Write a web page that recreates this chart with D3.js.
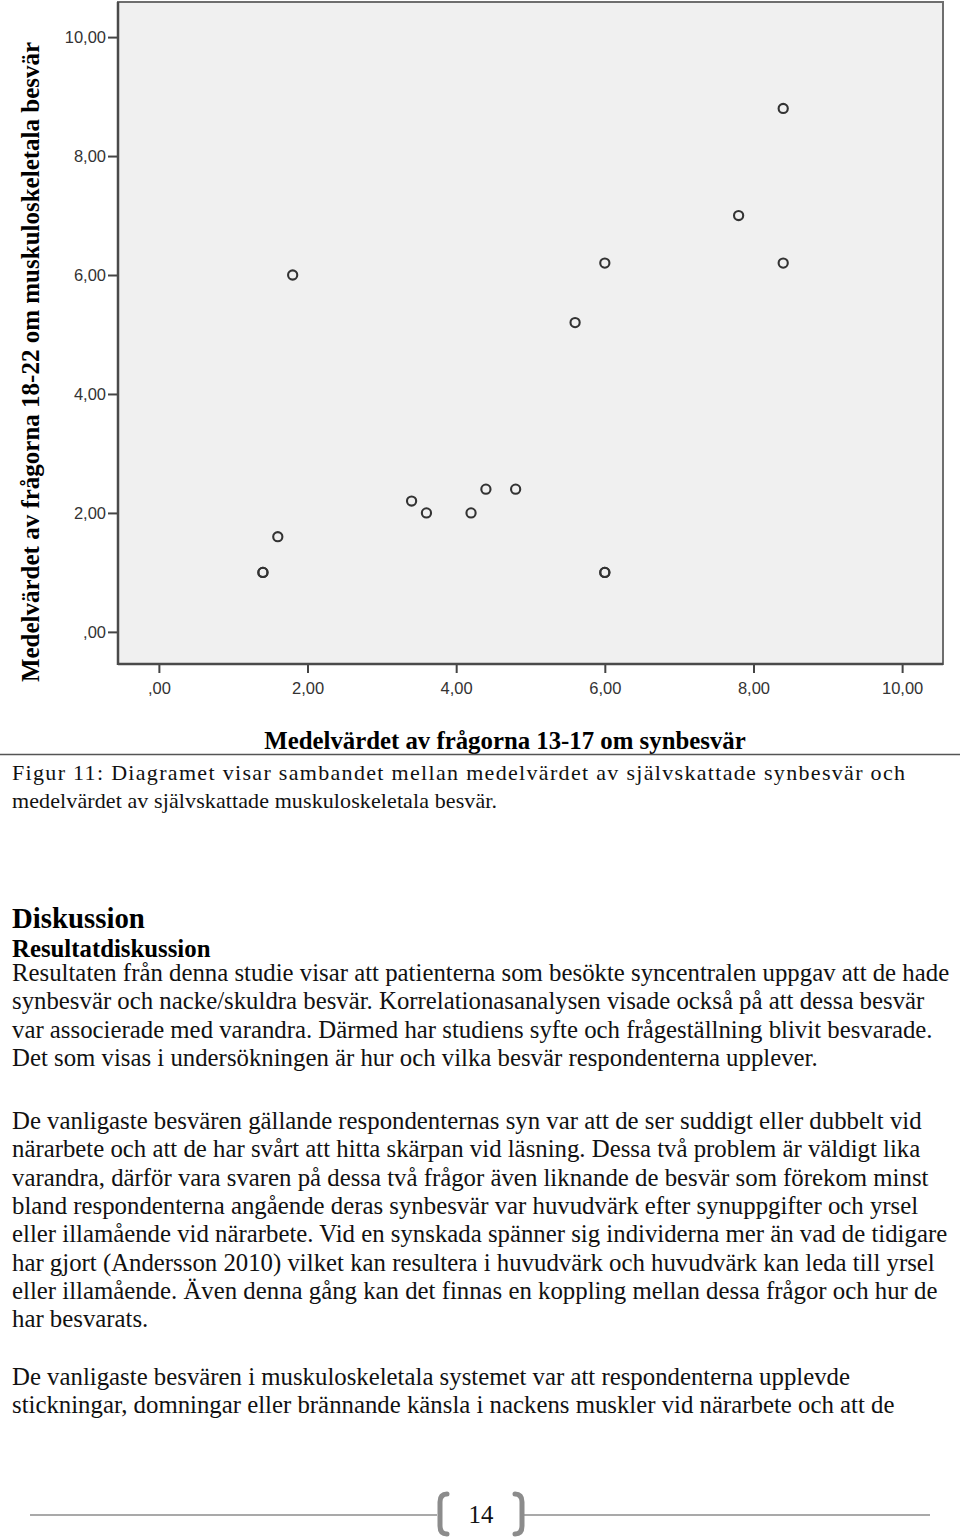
<!DOCTYPE html>
<html><head><meta charset="utf-8">
<script src="https://cdn.jsdelivr.net/npm/d3@7"></script>
<style>body{margin:0;background:#fff}svg{display:block}</style>
</head><body>
<script>
// ---- data ----
const synbesvar = [1.4, 1.4, 1.6, 1.8, 3.4, 3.6, 4.2, 4.4, 4.8, 5.6, 6.0, 6.0, 6.0, 7.8, 8.4, 8.4];
const muskuloskeletala = [1.0, 1.0, 1.6, 6.0, 2.2, 2.0, 2.0, 2.4, 2.4, 5.2, 6.2, 1.0, 1.0, 7.0, 8.8, 6.2];
const tickValues = [0, 2, 4, 6, 8, 10];
const tickLabels = [",00", "2,00", "4,00", "6,00", "8,00", "10,00"];
const xTitle = "Medelvärdet av frågorna 13-17 om synbesvär";
const yTitle = "Medelvärdet av frågorna 18-22 om muskuloskeletala besvär";
const captionLines = [
  "Figur 11: Diagramet visar sambandet mellan medelvärdet av självskattade synbesvär och",
  "medelvärdet av självskattade muskuloskeletala besvär."
];
const heading = "Diskussion";
const subheading = "Resultatdiskussion";
const para1 = [
  "Resultaten från denna studie visar att patienterna som besökte syncentralen uppgav att de hade",
  "synbesvär och nacke/skuldra besvär. Korrelationasanalysen visade också på att dessa besvär",
  "var associerade med varandra. Därmed har studiens syfte och frågeställning blivit besvarade.",
  "Det som visas i undersökningen är hur och vilka besvär respondenterna upplever."
];
const para2 = [
  "De vanligaste besvären gällande respondenternas syn var att de ser suddigt eller dubbelt vid",
  "närarbete och att de har svårt att hitta skärpan vid läsning. Dessa två problem är väldigt lika",
  "varandra, därför vara svaren på dessa två frågor även liknande de besvär som förekom minst",
  "bland respondenterna angående deras synbesvär var huvudvärk efter synuppgifter och yrsel",
  "eller illamående vid närarbete. Vid en synskada spänner sig individerna mer än vad de tidigare",
  "har gjort (Andersson 2010) vilket kan resultera i huvudvärk och huvudvärk kan leda till yrsel",
  "eller illamående. Även denna gång kan det finnas en koppling mellan dessa frågor och hur de",
  "har besvarats."
];
const para3 = [
  "De vanligaste besvären i muskuloskeletala systemet var att respondenterna upplevde",
  "stickningar, domningar eller brännande känsla i nackens muskler vid närarbete och att de"
];
const pageNumber = "14";

// ---- layout ----
const W = 960, H = 1539;
const plot = {left: 118, right: 943, top: 2, bottom: 664};
const serif = "'Liberation Serif','Times New Roman',serif";
const sans = "'Liberation Sans',Arial,sans-serif";
const bodySize = 24.8;

const svg = d3.select("body").append("svg").attr("width", W).attr("height", H);
svg.append("rect").attr("width", W).attr("height", H).attr("fill", "#fff");

const x = d3.scaleLinear().domain([-0.55, 10.55]).range([plot.left, plot.right]);
const y = d3.scaleLinear().domain([-0.54, 10.59]).range([plot.bottom, plot.top]);

svg.append("rect")
  .attr("x", plot.left).attr("y", plot.top)
  .attr("width", plot.right - plot.left).attr("height", plot.bottom - plot.top)
  .attr("fill", "#f0f0f0").attr("stroke", "#6e6e6e").attr("stroke-width", 2);

const fmt = v => tickLabels[tickValues.indexOf(v)];

const xAxis = svg.append("g").attr("transform", `translate(0,${plot.bottom})`)
  .call(d3.axisBottom(x).tickValues(tickValues).tickFormat(fmt).tickSize(9).tickPadding(9));
const yAxis = svg.append("g").attr("transform", `translate(${plot.left},0)`)
  .call(d3.axisLeft(y).tickValues(tickValues).tickFormat(fmt).tickSize(10).tickPadding(2));
[xAxis, yAxis].forEach(g => {
  g.select(".domain").remove();
  g.selectAll(".tick line").attr("stroke", "#444").attr("stroke-width", 2);
  g.selectAll(".tick text").attr("font-family", sans).attr("font-size", 16.5).attr("fill", "#333");
});
svg.append("line").attr("x1", plot.left).attr("x2", plot.left).attr("y1", plot.top).attr("y2", plot.bottom + 1)
  .attr("stroke", "#4a4a4a").attr("stroke-width", 2.5);
svg.append("line").attr("x1", plot.left).attr("x2", plot.right).attr("y1", plot.bottom).attr("y2", plot.bottom)
  .attr("stroke", "#4a4a4a").attr("stroke-width", 2.5);

svg.append("g").selectAll("circle").data(synbesvar.map((v, i) => [v, muskuloskeletala[i]]))
  .join("circle")
  .attr("cx", d => x(d[0])).attr("cy", d => y(d[1])).attr("r", 4.6)
  .attr("fill", "none").attr("stroke", "#333").attr("stroke-width", 2.1);

// axis titles
svg.append("text").attr("x", 505).attr("y", 749).attr("text-anchor", "middle")
  .attr("font-family", serif).attr("font-weight", "bold").attr("font-size", bodySize).text(xTitle);
svg.append("text").attr("transform", "translate(39,362) rotate(-90)").attr("text-anchor", "middle")
  .attr("font-family", serif).attr("font-weight", "bold").attr("font-size", 25).text(yTitle);

svg.append("line").attr("x1", 0).attr("x2", W).attr("y1", 754.5).attr("y2", 754.5)
  .attr("stroke", "#555").attr("stroke-width", 1.5);

// caption
const capEnds = [905, 497];
svg.append("g").selectAll("text").data(captionLines).join("text")
  .attr("x", 12).attr("y", (d, i) => 780 + i * 27.5)
  .attr("textLength", (d, i) => capEnds[i] - 12).attr("lengthAdjust", "spacing")
  .attr("font-family", serif).attr("font-size", 22).attr("fill", "#111").text(d => d);

// headings
svg.append("text").attr("x", 12).attr("y", 928).attr("font-family", serif).attr("font-weight", "bold")
  .attr("font-size", 28.8).text(heading);
svg.append("text").attr("x", 12).attr("y", 957).attr("font-family", serif).attr("font-weight", "bold")
  .attr("font-size", bodySize).text(subheading);

function para(lines, y0) {
  svg.append("g").selectAll("text").data(lines).join("text")
    .attr("x", 12).attr("y", (d, i) => y0 + i * 28.3)
    .attr("font-family", serif).attr("font-size", bodySize).attr("fill", "#111").text(d => d);
}
para(para1, 981);
para(para2, 1129);
para(para3, 1385);

// footer
const fg = svg.append("g").attr("fill", "none").attr("stroke", "#8c8c8c");
fg.append("line").attr("x1", 30).attr("x2", 437).attr("y1", 1515).attr("y2", 1515).attr("stroke-width", 1.5);
fg.append("line").attr("x1", 523).attr("x2", 930).attr("y1", 1515).attr("y2", 1515).attr("stroke-width", 1.5);
fg.append("path").attr("stroke-width", 5).attr("stroke-linecap", "round")
  .attr("d", "M447,1494 Q440,1494 440,1502 L440,1526 Q440,1534 447,1534");
fg.append("path").attr("stroke-width", 5).attr("stroke-linecap", "round")
  .attr("d", "M515,1494 Q522,1494 522,1502 L522,1526 Q522,1534 515,1534");
svg.append("text").attr("x", 481).attr("y", 1523).attr("text-anchor", "middle")
  .attr("font-family", serif).attr("font-size", bodySize).attr("fill", "#111").text(pageNumber);
</script>
</body></html>
